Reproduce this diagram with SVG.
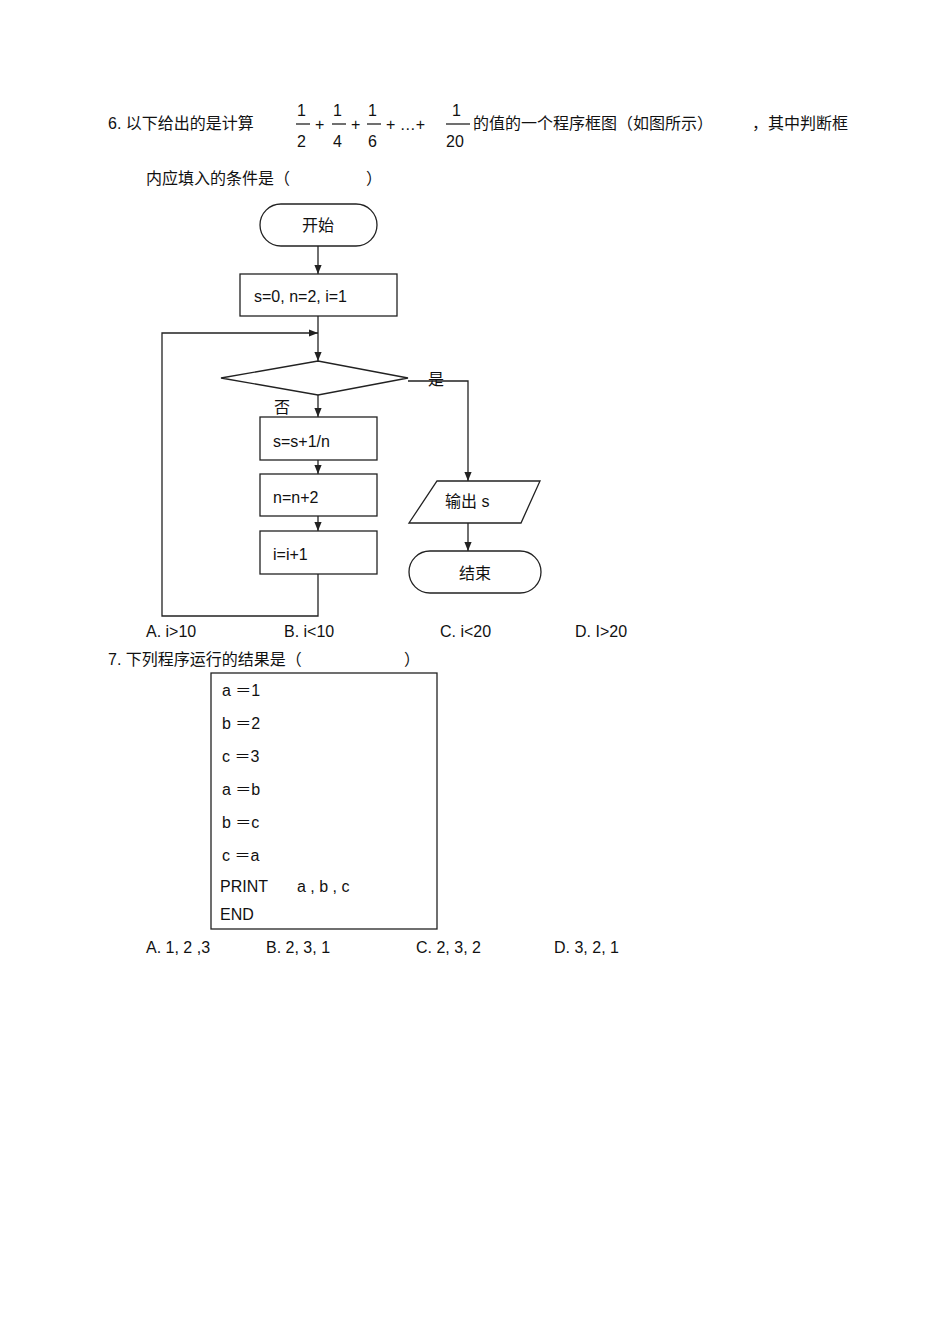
<svg xmlns="http://www.w3.org/2000/svg" width="950" height="1341" viewBox="0 0 950 1341">
<style>
text{font-family:"Liberation Sans","Noto Sans CJK SC",sans-serif;font-size:16px;fill:#111}
.s{fill:#fff;stroke:#222;stroke-width:1.3}
.l{fill:none;stroke:#222;stroke-width:1.3}
</style>
<defs><marker id="a" viewBox="0 0 10 10" refX="10" refY="5" markerWidth="7" markerHeight="7" orient="auto"><path d="M0,1 L10,5 L0,9 z" fill="#222"/></marker></defs>
<rect width="950" height="1341" fill="#fff"/>
<g id="q6">
<text x="108" y="129">6. 以下给出的是计算</text>
<text x="297" y="116">1</text><line x1="296" y1="124" x2="310" y2="124" class="l"/><text x="297" y="147">2</text>
<text x="315" y="130">+</text>
<text x="333" y="116">1</text><line x1="332" y1="124" x2="346" y2="124" class="l"/><text x="333" y="147">4</text>
<text x="351" y="130">+</text>
<text x="368" y="116">1</text><line x1="367" y1="124" x2="381" y2="124" class="l"/><text x="368" y="147">6</text>
<text x="386" y="130">+ …+</text>
<text x="452" y="116">1</text><line x1="446" y1="124" x2="470" y2="124" class="l"/><text x="446" y="147">20</text>
<text x="473" y="129">的值的一个程序框图（如图所示）</text>
<text x="752" y="129">，其中判断框</text>
<text x="146" y="184">内应填入的条件是（</text>
<text x="366" y="184">）</text>
</g>
<g id="connectors">
<line x1="318" y1="246" x2="318" y2="274" class="l" marker-end="url(#a)"/>
<line x1="318" y1="316" x2="318" y2="361" class="l" marker-end="url(#a)"/>
<polyline points="318,570 318,616 162,616 162,333 318,333" class="l" marker-end="url(#a)"/>
<line x1="318" y1="395" x2="318" y2="417" class="l" marker-end="url(#a)"/>
<line x1="318" y1="460" x2="318" y2="474" class="l" marker-end="url(#a)"/>
<line x1="318" y1="516" x2="318" y2="531" class="l" marker-end="url(#a)"/>
<polyline points="408,381 468,381 468,481" class="l" marker-end="url(#a)"/>
<line x1="468" y1="523" x2="468" y2="551" class="l" marker-end="url(#a)"/>
</g>
<g id="start"><rect x="260" y="204" width="117" height="42" rx="21" class="s"/><text x="318" y="231" text-anchor="middle">开始</text></g>
<g id="init"><rect x="240" y="274" width="157" height="42" class="s" stroke-width="2"/><text x="254" y="302">s=0, n=2, i=1</text></g>
<g id="cond"><polygon points="221,378 318,361 408,378 318,395" class="s"/></g>
<text x="428" y="385">是</text>
<text x="274" y="413">否</text>
<g id="b1"><rect x="260" y="417" width="117" height="43" class="s"/><text x="273" y="447">s=s+1/n</text></g>
<g id="b2"><rect x="260" y="474" width="117" height="42" class="s"/><text x="273" y="503">n=n+2</text></g>
<g id="b3"><rect x="260" y="531" width="117" height="43" class="s"/><text x="273" y="560">i=i+1</text></g>
<g id="out"><polygon points="437,481 540,481 521,523 409,523" class="s"/><text x="445" y="507">输出 s</text></g>
<g id="end"><rect x="409" y="551" width="132" height="42" rx="21" class="s"/><text x="475" y="579" text-anchor="middle" font-size="15">结束</text></g>
<g id="opts6">
<text x="146" y="637">A. i&gt;10</text><text x="284" y="637">B. i&lt;10</text><text x="440" y="637">C. i&lt;20</text><text x="575" y="637">D. I&gt;20</text>
</g>
<g id="q7">
<text x="108" y="665">7. 下列程序运行的结果是（</text><text x="404" y="665">）</text>
<rect x="211" y="673" width="226" height="256" class="s"/>
<text x="222" y="696" font-size="18">a ＝1</text>
<text x="222" y="729" font-size="18">b ＝2</text>
<text x="222" y="762" font-size="18">c ＝3</text>
<text x="222" y="795" font-size="18">a ＝b</text>
<text x="222" y="828" font-size="18">b ＝c</text>
<text x="222" y="861" font-size="18">c ＝a</text>
<text x="220" y="892">PRINT</text><text x="297" y="892" font-size="18">a , b , c</text>
<text x="220" y="920">END</text>
<text x="146" y="953">A. 1, 2 ,3</text><text x="266" y="953">B. 2, 3, 1</text><text x="416" y="953">C. 2, 3, 2</text><text x="554" y="953">D. 3, 2, 1</text>
</g>
</svg>
